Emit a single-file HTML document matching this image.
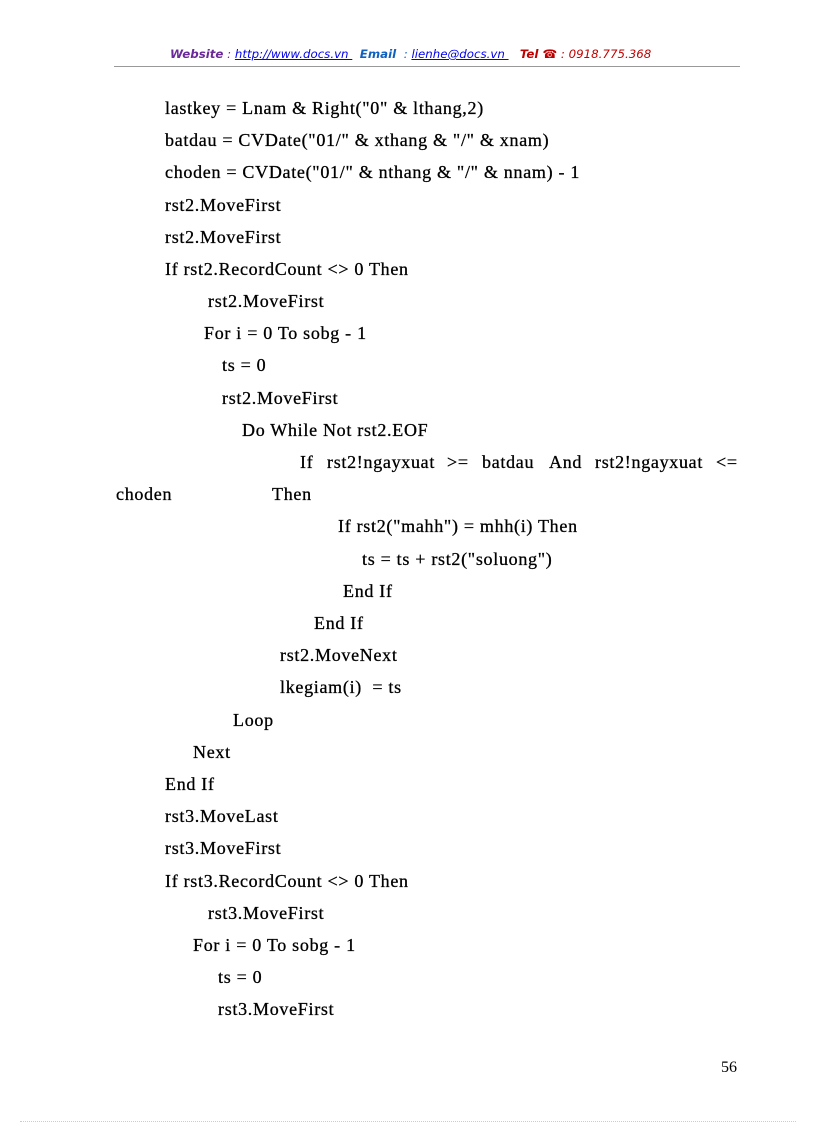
<!DOCTYPE html>
<html><head><meta charset="utf-8"><style>
body{margin:0;background:#fff;}
.p{position:relative;width:816px;height:1123px;overflow:hidden;background:#fff;}
.l{position:absolute;font-family:"Liberation Serif",serif;font-size:18px;line-height:20px;white-space:pre;color:#000;letter-spacing:0.7px;word-spacing:0;-webkit-text-stroke:0.3px #000;}
.h{position:absolute;top:47px;left:170px;font-family:"DejaVu Sans",sans-serif;font-style:italic;font-size:11.8px;white-space:pre;}
</style></head><body><div class="p">
<div class="h"><b style="color:#6a2a9a">Website</b><span style="color:#6a2a9a"> : </span><u style="color:#0000ee">http://www.docs.vn </u>  <b style="color:#1060c0">Email</b><span style="color:#1060c0">  : </span><u style="color:#0000ee">lienhe@docs.vn </u>   <b style="color:#c00000">Tel ☎</b><span style="color:#c00000"> : 0918.775.368</span></div>
<div style="position:absolute;left:114px;top:66px;width:626px;border-top:1px solid #999"></div>
<div class="l" style="left:165px;top:98px">lastkey = Lnam &amp; Right("0" &amp; lthang,2)</div>
<div class="l" style="left:165px;top:130px">batdau = CVDate("01/" &amp; xthang &amp; "/" &amp; xnam)</div>
<div class="l" style="left:165px;top:162px">choden = CVDate("01/" &amp; nthang &amp; "/" &amp; nnam) - 1</div>
<div class="l" style="left:165px;top:195px">rst2.MoveFirst</div>
<div class="l" style="left:165px;top:227px">rst2.MoveFirst</div>
<div class="l" style="left:165px;top:259px">If rst2.RecordCount &lt;&gt; 0 Then</div>
<div class="l" style="left:208px;top:291px">rst2.MoveFirst</div>
<div class="l" style="left:204px;top:323px">For i = 0 To sobg - 1</div>
<div class="l" style="left:222px;top:355px">ts = 0</div>
<div class="l" style="left:222px;top:388px">rst2.MoveFirst</div>
<div class="l" style="left:242px;top:420px">Do While Not rst2.EOF</div>
<div class="l" style="left:300px;top:452px">If</div>
<div class="l" style="left:327px;top:452px">rst2!ngayxuat</div>
<div class="l" style="left:447px;top:452px">&gt;=</div>
<div class="l" style="left:482px;top:452px">batdau</div>
<div class="l" style="left:549px;top:452px">And</div>
<div class="l" style="left:595px;top:452px">rst2!ngayxuat</div>
<div class="l" style="left:716px;top:452px">&lt;=</div>
<div class="l" style="left:116px;top:484px">choden</div>
<div class="l" style="left:272px;top:484px">Then</div>
<div class="l" style="left:338px;top:516px">If rst2("mahh") = mhh(i) Then</div>
<div class="l" style="left:362px;top:549px">ts = ts + rst2("soluong")</div>
<div class="l" style="left:343px;top:581px">End If</div>
<div class="l" style="left:314px;top:613px">End If</div>
<div class="l" style="left:280px;top:645px">rst2.MoveNext</div>
<div class="l" style="left:280px;top:677px">lkegiam(i)  = ts</div>
<div class="l" style="left:233px;top:710px">Loop</div>
<div class="l" style="left:193px;top:742px">Next</div>
<div class="l" style="left:165px;top:774px">End If</div>
<div class="l" style="left:165px;top:806px">rst3.MoveLast</div>
<div class="l" style="left:165px;top:838px">rst3.MoveFirst</div>
<div class="l" style="left:165px;top:871px">If rst3.RecordCount &lt;&gt; 0 Then</div>
<div class="l" style="left:208px;top:903px">rst3.MoveFirst</div>
<div class="l" style="left:193px;top:935px">For i = 0 To sobg - 1</div>
<div class="l" style="left:218px;top:967px">ts = 0</div>
<div class="l" style="left:218px;top:999px">rst3.MoveFirst</div>
<div class="l" style="left:721px;top:1058px;font-size:16px;letter-spacing:0;-webkit-text-stroke:0">56</div>
<div style="position:absolute;left:20px;top:1121px;width:776px;border-top:1px dotted #ccc"></div>
</div></body></html>
